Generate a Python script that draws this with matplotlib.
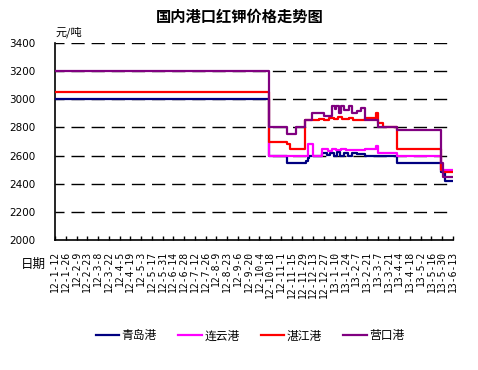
import pandas as pd
import matplotlib
matplotlib.use('Agg')
import matplotlib.pyplot as plt

plt.rcParams['font.family'] = ['Noto Sans CJK SC', 'DejaVu Sans']

# 数据: 价格变动点 (日期, 元/吨), 阶梯线
qd_dates = ['2012-01-12', '2012-10-16', '2012-11-09', '2012-12-04', '2012-12-06', '2012-12-08',
            '2012-12-25', '2012-12-31', '2013-01-04', '2013-01-09', '2013-01-13', '2013-01-17',
            '2013-01-22', '2013-01-27', '2013-02-02', '2013-02-08', '2013-02-19', '2013-04-01',
            '2013-05-28', '2013-06-03', '2013-06-13']
qd_vals = [3000, 2600, 2550, 2560, 2580, 2600,
           2620, 2605, 2620, 2600, 2625, 2600,
           2615, 2600, 2620, 2610, 2600, 2550,
           2480, 2420, 2420]

lyg_dates = ['2012-10-16', '2012-10-17', '2012-12-06', '2012-12-13', '2012-12-25', '2013-01-01',
             '2013-01-06', '2013-01-12', '2013-01-18', '2013-01-25', '2013-02-19', '2013-03-05',
             '2013-03-07', '2013-04-01', '2013-05-28', '2013-06-13']
lyg_vals = [2690, 2600, 2680, 2600, 2645, 2635,
            2650, 2640, 2650, 2640, 2650, 2665,
            2620, 2600, 2500, 2500]

zj_dates = ['2012-01-12', '2012-10-16', '2012-11-09', '2012-11-13', '2012-12-03', '2012-12-20',
            '2012-12-27', '2013-01-03', '2013-01-09', '2013-01-14', '2013-01-20', '2013-01-28',
            '2013-02-03', '2013-02-19', '2013-03-05', '2013-03-07', '2013-03-14', '2013-04-01',
            '2013-05-28', '2013-05-31', '2013-06-13']
zj_vals = [3050, 2700, 2680, 2650, 2850, 2860,
           2850, 2870, 2860, 2875, 2860, 2870,
           2855, 2870, 2905, 2830, 2800, 2650,
           2500, 2480, 2480]

yk_dates = ['2012-01-12', '2012-10-16', '2012-11-09', '2012-11-21', '2012-12-03', '2012-12-11',
            '2012-12-27', '2013-01-06', '2013-01-10', '2013-01-12', '2013-01-16', '2013-01-18',
            '2013-01-22', '2013-01-28', '2013-02-01', '2013-02-08', '2013-02-13', '2013-02-19',
            '2013-03-07', '2013-04-01', '2013-05-28', '2013-05-31', '2013-06-13']
yk_vals = [3200, 2800, 2750, 2800, 2850, 2900,
           2880, 2950, 2930, 2950, 2905, 2950,
           2925, 2950, 2900, 2915, 2935, 2850,
           2800, 2780, 2550, 2450, 2450]

series = [('青岛港', qd_dates, qd_vals, '#000080'),
          ('连云港', lyg_dates, lyg_vals, '#FF00FF'),
          ('湛江港', zj_dates, zj_vals, '#FF0000'),
          ('营口港', yk_dates, yk_vals, '#800080')]

tick_labels = ['12-1-12', '12-1-26', '12-2-9', '12-2-23', '12-3-8', '12-3-22', '12-4-5',
               '12-4-19', '12-5-3', '12-5-17', '12-5-31', '12-6-14', '12-6-28', '12-7-12',
               '12-7-26', '12-8-9', '12-8-23', '12-9-6', '12-9-20', '12-10-4', '12-10-18',
               '12-11-1', '12-11-15', '12-11-29', '12-12-13', '12-12-27', '13-1-10', '13-1-24',
               '13-2-7', '13-2-21', '13-3-7', '13-3-21', '13-4-4', '13-4-18', '13-5-2',
               '13-5-16', '13-5-30', '13-6-13']
tick_dates = pd.to_datetime(['20' + t for t in tick_labels], format='%Y-%m-%d')

fig = plt.figure(figsize=(4.78, 3.70), dpi=100)
ax = fig.add_axes([55 / 478, 1 - 240 / 370, 398 / 478, 197 / 370])

for y in range(2200, 3401, 200):
    ax.axhline(y, color='black', lw=1, ls=(3, (9.5, 5)), zorder=1)

for name, d, v, c in series:
    ax.step(pd.to_datetime(d), v, where='post', color=c, lw=1.6, label=name, zorder=3)

ax.set_xlim(tick_dates[0], tick_dates[-1])
ax.set_ylim(2000, 3400)
ax.set_yticks(range(2000, 3401, 200))
ax.tick_params(axis='y', length=0, pad=14, labelsize=7.5)
for lab in ax.get_yticklabels():
    lab.set_family('DejaVu Sans')

ax.set_xticks(tick_dates)
ax.set_xticklabels(tick_labels, rotation=90, family='DejaVu Sans Mono', fontsize=7)
ax.tick_params(axis='x', direction='in', length=3, pad=8, width=1)

for s in ['top', 'right']:
    ax.spines[s].set_visible(False)
for s in ['left', 'bottom']:
    ax.spines[s].set_linewidth(1.2)

fig.text(240 / 478, 1 - 17 / 370, '国内港口红钾价格走势图', ha='center', va='center',
         fontsize=11, fontweight='bold')
fig.text(56 / 478, 1 - 32 / 370, '元/吨', ha='left', va='center', fontsize=8)
fig.text(21 / 478, 1 - 264 / 370, '日期', ha='left', va='center', fontsize=9)

fig.legend(loc='center', bbox_to_anchor=(250 / 478, 1 - 336 / 370), ncol=4, frameon=False,
           fontsize=8.5, handlelength=2.0, handletextpad=0.2, columnspacing=1.8)

fig.savefig('out.png', dpi=100)
